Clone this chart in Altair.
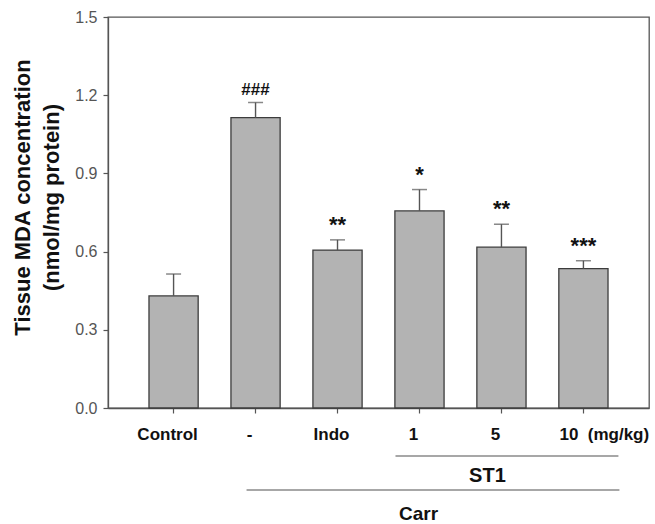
import altair as alt
import pandas as pd

groups = ["Control", "-", "Indo", "1", "5", "10"]
means = [0.430, 1.114, 0.606, 0.756, 0.617, 0.535]
err_top = [0.514, 1.172, 0.645, 0.838, 0.705, 0.565]
sig = ["", "###", "**", "*", "**", "***"]

df = pd.DataFrame({"group": groups, "mean": means, "err": err_top, "sig": sig})

FONT = "Liberation Sans"

x_scale = alt.Scale(domain=groups, paddingInner=0.4, paddingOuter=0.5)

x_enc = alt.X(
    "group:N",
    scale=x_scale,
    axis=alt.Axis(
        title=None,
        labelAngle=0,
        labelFont=FONT,
        labelFontSize=17,
        labelFontWeight="bold",
        labelColor="#111111",
        labelPadding=13,
        labelExpr="datum.value == '10' ? '10\u00a0\u00a0(mg/kg)' : datum.value",
        labelAlign={"condition": {"test": "datum.value == '10'", "value": "left"}, "value": "center"},
        labelOffset={"condition": {"test": "datum.value == '10'", "value": -24}, "value": -6},
        domainColor="#555555",
        domainWidth=1.3,
        tickColor="#555555",
        tickSize=5,
        tickWidth=1.2,
    ),
)

y_scale = alt.Scale(domain=[0, 1.5], nice=False)
y_axis = alt.Axis(
    title=["Tissue MDA concentration", "(nmol/mg protein)"],
    titleFont=FONT,
    titleFontSize=22,
    titleFontWeight="bold",
    titleColor="#111111",
    titleLineHeight=29,
    titleAngle=270,
    titleAlign="center",
    titleBaseline="middle",
    titleX=-86,
    titleY=180,
    values=[0.0, 0.3, 0.6, 0.9, 1.2, 1.5],
    format=".1f",
    labelFont=FONT,
    labelFontSize=16,
    labelColor="#555555",
    labelPadding=6,
    grid=False,
    domainColor="#555555",
    domainWidth=1.3,
    tickColor="#555555",
    tickSize=5,
    tickWidth=1.2,
)

base = alt.Chart(df)

bars = base.mark_bar(fill="#b3b3b3", stroke="#3c3c3c", strokeWidth=1.3).encode(
    x=x_enc,
    y=alt.Y("mean:Q", scale=y_scale, axis=y_axis),
)

err_line = base.mark_rule(color="#555555", strokeWidth=1.4).encode(
    x=alt.X("group:N", scale=x_scale),
    y="mean:Q",
    y2="err:Q",
)

err_cap = base.mark_tick(color="#555555", size=15, thickness=1.5).encode(
    x=alt.X("group:N", scale=x_scale),
    y="err:Q",
)

labels = base.mark_text(font=FONT, fontWeight="bold", baseline="bottom", dy=-3, color="#111111").encode(
    x=alt.X("group:N", scale=x_scale),
    y="err:Q",
    text="sig:N",
    size=alt.condition(alt.datum.sig == "###", alt.value(17), alt.value(22)),
)

ann_name = ["ST1", "Carr"]
ann_start = ["1", "-"]
ann_end = ["10", "10"]
ann_anchor = ["5", "1"]
ann = pd.DataFrame({"name": ann_name, "start": ann_start, "end": ann_end, "anchor": ann_anchor})
ann_base = alt.Chart(ann)

st1_line = ann_base.transform_filter(alt.datum.name == "ST1").mark_rule(
    color="#8a8a8a", strokeWidth=1.5, xOffset=-24, x2Offset=35
).encode(x=alt.X("start:N", scale=x_scale), x2="end:N", y=alt.value(439))

carr_line = ann_base.transform_filter(alt.datum.name == "Carr").mark_rule(
    color="#8a8a8a", strokeWidth=1.5, xOffset=-9, x2Offset=36
).encode(x=alt.X("start:N", scale=x_scale), x2="end:N", y=alt.value(473))

st1_text = ann_base.transform_filter(alt.datum.name == "ST1").mark_text(
    font=FONT, fontWeight="bold", fontSize=20, color="#111111", dx=-14, baseline="alphabetic"
).encode(x=alt.X("anchor:N", scale=x_scale), text="name:N", y=alt.value(465))

carr_text = ann_base.transform_filter(alt.datum.name == "Carr").mark_text(
    font=FONT, fontWeight="bold", fontSize=19, color="#111111", dx=-1, baseline="alphabetic"
).encode(x=alt.X("anchor:N", scale=x_scale), text="name:N", y=alt.value(503))

chart = alt.layer(
    bars, err_line, err_cap, labels, st1_line, carr_line, st1_text, carr_text
).properties(
    width=541,
    height=391,
    autosize=alt.AutoSizeParams(type="none"),
    padding={"left": 108, "top": 17, "right": 6, "bottom": 116},
    background="white",
).configure_view(stroke="#555555", strokeWidth=1.3)

chart.save("out.html", embed_options={"renderer": "svg", "actions": False})
